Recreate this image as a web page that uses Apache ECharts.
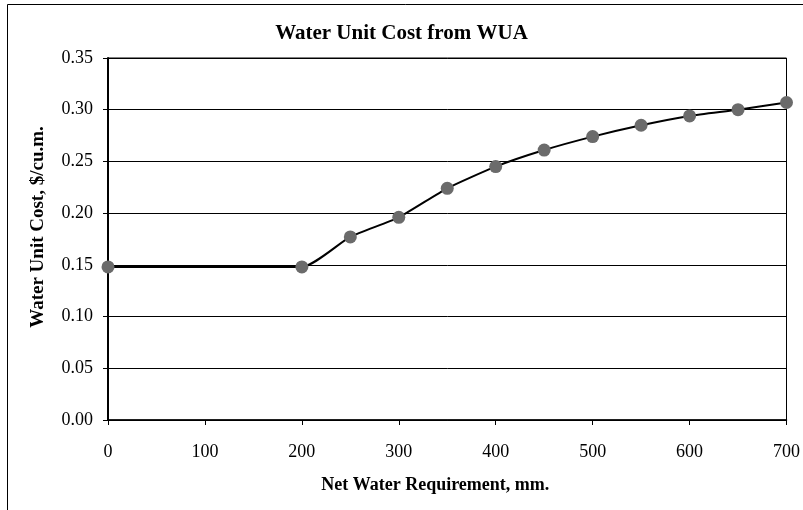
<!DOCTYPE html>
<html><head><meta charset="utf-8">
<script src="https://cdn.jsdelivr.net/npm/echarts@6/dist/echarts.min.js"></script>
<style>html,body{margin:0;padding:0;background:#fff}#c{width:803px;height:510px}</style>
</head><body><div id="c"></div>
<script>
const titleText = 'Water Unit Cost from WUA';
const xName = 'Net Water Requirement, mm.';
const yName = 'Water Unit Cost, $/cu.m.';
const xValues = [0, 200, 250, 300, 350, 400, 450, 500, 550, 600, 650, 700];
const yValues = [0.148, 0.148, 0.177, 0.196, 0.224, 0.245, 0.261, 0.274, 0.285, 0.294, 0.300, 0.307];
const font = '"Liberation Serif", "Times New Roman", serif';
const chart = echarts.init(document.getElementById('c'));
chart.setOption({
  animation: false,
  backgroundColor: '#fff',
  title: {text: titleText, left: 'center', top: 18, textStyle: {fontFamily: font, fontSize: 21, fontWeight: 'bold', color: '#000'}},
  graphic: [{type: 'rect', shape: {x: 7.5, y: 4.5, width: 900, height: 600}, style: {fill: 'none', stroke: '#000', lineWidth: 1}, z: 100}],
  grid: {left: 108, right: 16, top: 58, bottom: 90, show: true, borderColor: '#000', borderWidth: 1},
  xAxis: {
    type: 'value', min: 0, max: 700, interval: 100,
    name: xName, nameLocation: 'middle', nameGap: 56,
    nameTextStyle: {fontFamily: font, fontSize: 18, fontWeight: 'bold', color: '#000', padding: [0, 24, 0, 0]},
    axisLine: {show: true, lineStyle: {color: '#000', width: 1.5}},
    axisTick: {show: true, length: 5, lineStyle: {color: '#000'}},
    axisLabel: {fontFamily: font, fontSize: 18, color: '#000', margin: 23},
    splitLine: {show: false}
  },
  yAxis: {
    type: 'value', min: 0, max: 0.35, interval: 0.05,
    name: yName, nameLocation: 'middle', nameGap: 60,
    nameTextStyle: {fontFamily: font, fontSize: 19, fontWeight: 'bold', color: '#000', padding: [0, 0, 0, 24]},
    axisLine: {show: true, lineStyle: {color: '#000', width: 2}},
    axisTick: {show: true, length: 5, lineStyle: {color: '#000'}},
    axisLabel: {fontFamily: font, fontSize: 18, color: '#000', margin: 15, formatter: v => v.toFixed(2)},
    splitLine: {show: true, lineStyle: {color: '#000', width: 1}}
  },
  series: [{
    type: 'line',
    data: xValues.map((x, i) => [x, yValues[i]]),
    smooth: 0.2,
    symbol: 'circle', symbolSize: 13,
    itemStyle: {color: '#6b6b6b'},
    lineStyle: {color: '#000', width: 2}
  }]
});
</script></body></html>
